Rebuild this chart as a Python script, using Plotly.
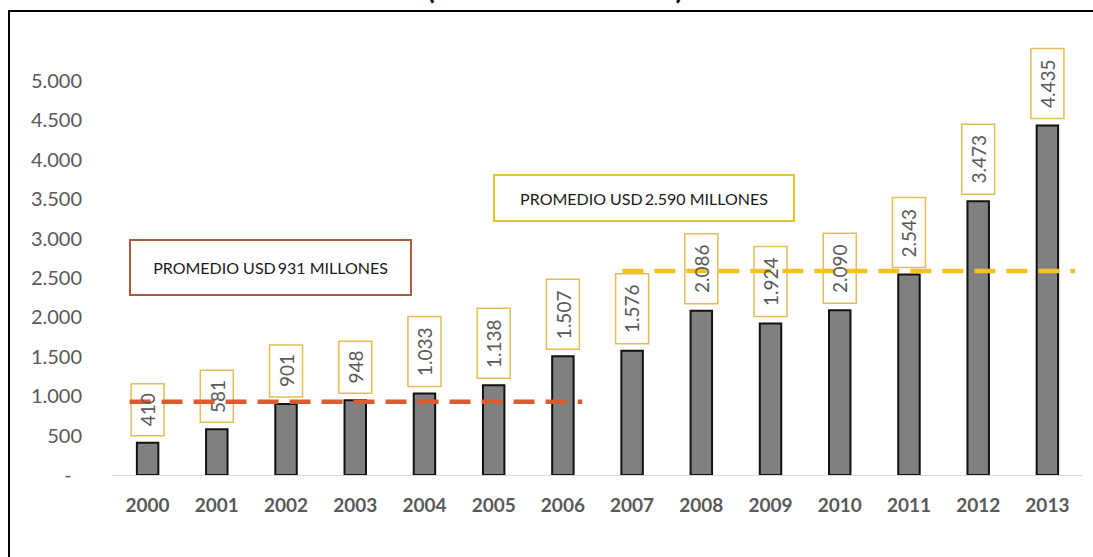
import plotly.graph_objects as go

# Exportaciones anuales (millones de USD)
years = ["2000", "2001", "2002", "2003", "2004", "2005", "2006",
         "2007", "2008", "2009", "2010", "2011", "2012", "2013"]
values = [410, 581, 901, 948, 1033, 1138, 1507,
          1576, 2086, 1924, 2090, 2543, 3473, 4435]

# Promedios por período (primer y segundo tramo de 7 años)
period_averages = [931, 2590]
period_sizes = [7, 7]

ytick_vals = [0, 500, 1000, 1500, 2000, 2500, 3000, 3500, 4000, 4500, 5000]
ytick_text = ["-\u00a0\u00a0", "500", "1.000", "1.500", "2.000", "2.500",
              "3.000", "3.500", "4.000", "4.500", "5.000"]

title_text = "(Millones de dólares)"

FONT = "Lato"
GREY = "#595959"
LABEL_BORDER = "#E2BE55"
LINE_COLORS = ["#E2592E", "#F2C12A"]
BOX_BORDERS = ["#AE5A3E", "#E6C22C"]

# Extensión de cada línea de promedio más allá de la primera/última barra
line_pad_left = [0.26, 0.14]
line_pad_right = [0.28, 0.40]


def es_num(v):
    return f"{v:,}".replace(",", ".")


x_idx = list(range(len(years)))

fig = go.Figure()
fig.add_trace(go.Bar(
    x=x_idx, y=values, width=0.31,
    marker=dict(color="#808080", line=dict(color="#111111", width=2)),
    hoverinfo="skip", showlegend=False,
))

shapes = []
annotations = []

# Etiquetas de valor: caja dorada sobre cada barra con el número en vertical
for i, v in enumerate(values):
    txt = es_num(v)
    length = 52 if len(txt) <= 3 else 70
    shapes.append(dict(
        type="rect", xref="x", yref="y",
        xsizemode="pixel", ysizemode="pixel",
        xanchor=i, yanchor=v,
        x0=-16.5, x1=16.5, y0=7, y1=7 + length,
        line=dict(color=LABEL_BORDER, width=1.5),
        fillcolor="white", layer="above",
    ))
    annotations.append(dict(
        x=i, y=v, xref="x", yref="y", text=txt, textangle=-90,
        showarrow=False, yanchor="middle", xanchor="center",
        yshift=7 + length / 2,
        font=dict(family=FONT, size=19, color=GREY),
    ))

# Líneas punteadas de promedio por período
start = 0
for k, (avg, n) in enumerate(zip(period_averages, period_sizes)):
    end = start + n - 1
    shapes.append(dict(
        type="line", xref="x", yref="y",
        x0=start - line_pad_left[k], x1=end + line_pad_right[k],
        y0=avg, y1=avg,
        line=dict(color=LINE_COLORS[k], width=4.5, dash="21px,11px"),
        layer="above",
    ))
    start = end + 1

# Cuadros de texto con el promedio de cada período
box_specs = [
    dict(x=0.1625, y=0.4826, width=279, height=53),
    dict(x=0.548, y=0.6442, width=298, height=44),
]
for k, avg in enumerate(period_averages):
    spec = box_specs[k]
    annotations.append(dict(
        x=spec["x"], y=spec["y"], xref="paper", yref="paper",
        text=f"PROMEDIO USD\u2009{es_num(avg)} MILLONES",
        showarrow=False, xanchor="center", yanchor="middle",
        width=spec["width"], height=spec["height"], align="center",
        bordercolor=BOX_BORDERS[k], borderwidth=2, borderpad=0,
        bgcolor="white",
        font=dict(family=FONT, size=16, color="#1a1a1a"),
    ))

# Título (queda recortado en el borde superior)
annotations.append(dict(
    x=0.456, y=1.1316, xref="paper", yref="paper", text=f"<b>{title_text}</b>",
    showarrow=False, xanchor="center", yanchor="middle",
    font=dict(family=FONT, size=28, color="#000000"),
))

# Marco exterior
shapes.insert(0, dict(
    type="rect", xref="paper", yref="paper",
    x0=-0.1073, x1=1.2, y0=-0.5, y1=1.0791,
    line=dict(color="#000000", width=2), fillcolor="rgba(0,0,0,0)",
    layer="below",
))

fig.update_layout(
    width=1093, height=557,
    margin=dict(l=113, r=11, t=45, b=82, pad=0),
    paper_bgcolor="white", plot_bgcolor="white",
    shapes=shapes, annotations=annotations,
    showlegend=False,
    xaxis=dict(
        range=[-0.5, len(years) - 0.5],
        tickvals=x_idx, ticktext=years,
        showgrid=False, zeroline=False,
        showline=True, linecolor="#d9d9d9", linewidth=1,
        ticks="", ticklabelstandoff=13,
        tickfont=dict(family=FONT, size=19, color=GREY, weight="bold"),
        fixedrange=True,
    ),
    yaxis=dict(
        range=[0, 5457],
        tickvals=ytick_vals, ticktext=ytick_text,
        showgrid=False, zeroline=False, showline=False,
        ticks="", ticklabelstandoff=30,
        tickfont=dict(family=FONT, size=20, color=GREY),
        fixedrange=True,
    ),
)

fig.write_html("out.html", config={"displayModeBar": False})
